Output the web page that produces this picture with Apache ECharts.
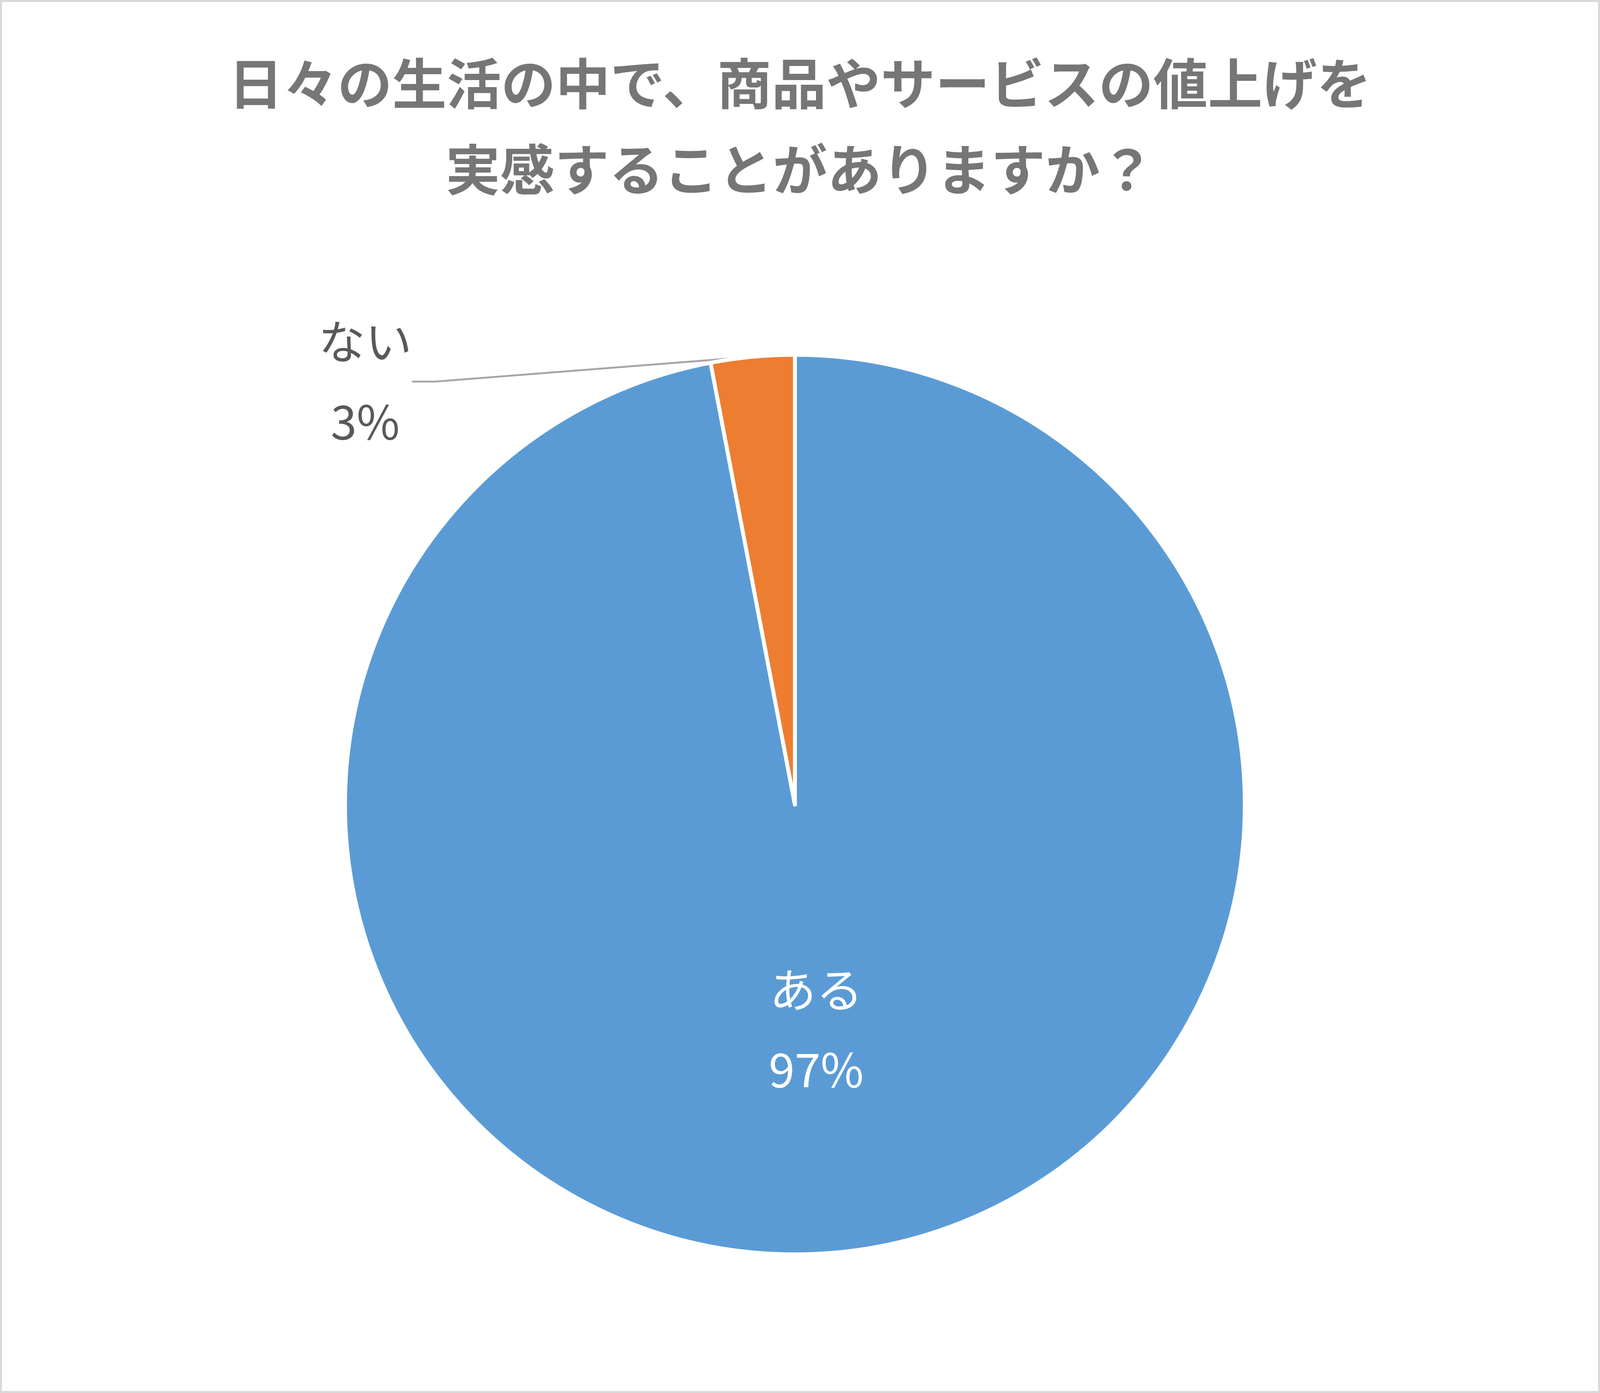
<!DOCTYPE html>
<html><head><meta charset="utf-8">
<script src="https://cdn.jsdelivr.net/npm/echarts@6/dist/echarts.min.js"></script>
<style>html,body{margin:0;padding:0;background:#fff;overflow:hidden}#c{width:100vw;height:100vh;box-sizing:border-box;border:5px solid #d9d9d9}</style>
</head><body><div id="c"></div>
<script>
const titleText = '日々の生活の中で、商品やサービスの値上げを\n実感することがありますか？';
const categories = ['ある', 'ない'];
const values = [97, 3];
const colors = ['#5b9bd5', '#ed7d31'];
const chart = echarts.init(document.getElementById('c'));
const W = chart.getWidth(), H = chart.getHeight();
const s = H / 3567;
const font = '"Noto Sans CJK JP", sans-serif';
chart.setOption({
  title: {text: titleText, left: 'center', top: 95 * s,
    textStyle: {fontFamily: font, fontSize: 140 * s, fontWeight: 'bold', color: '#767676', lineHeight: 220 * s}},
  series: [{
    type: 'pie', center: [W * 0.4968, H * 0.5778], radius: 1155 * s, startAngle: 90, clockwise: true,
    data: categories.map((c, i) => ({name: c, value: values[i], itemStyle: {color: colors[i]},
      label: i === 0 ? {position: 'inner', color: '#fff'} : {position: 'outside'},
      labelLine: {show: i === 1, lineStyle: {color: '#a6a6a6', width: 5 * s}, length: 30 * s, length2: 60 * s}})),
    itemStyle: {borderColor: '#fff', borderWidth: 10 * s},
    label: {formatter: p => p.name + '\n' + Math.round(p.percent) + '%', fontFamily: font,
      fontSize: 120 * s, color: '#595959', lineHeight: 205 * s},
    labelLayout: p => p.dataIndex === 1 ? {x: W * 0.2276, y: H * 0.2733, align: 'center', verticalAlign: 'middle'} : {},
    emphasis: {disabled: true}
  }]
});
</script></body></html>
